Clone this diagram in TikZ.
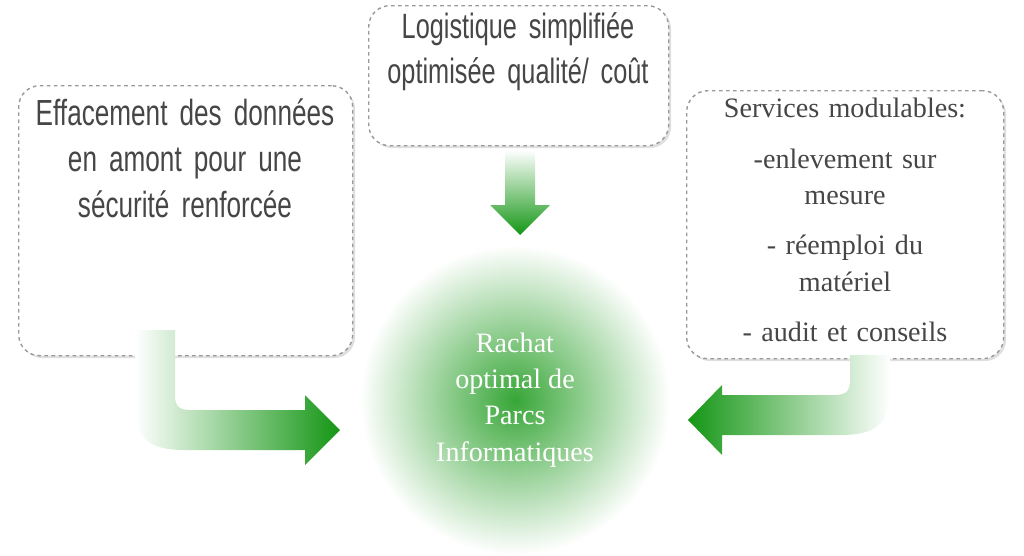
\documentclass[tikz,border=0pt]{standalone}
\usepackage{fontspec}
\setmainfont{Liberation Serif}
\newfontfamily\narrowfont[FakeStretch=0.72]{Liberation Sans}
\usetikzlibrary{shadows}
\hyphenpenalty=10000
\definecolor{arrowgreen}{RGB}{20,150,20}
\definecolor{textgray}{RGB}{70,70,70}
\tikzset{
  infobox/.style={draw=gray!80, dashed, line width=1.2pt, rounded corners=18pt, fill=white,
    drop shadow={opacity=0.25, shadow xshift=2pt, shadow yshift=-2pt}, text=textgray},
}
\begin{document}
\begin{tikzpicture}[x=0.03cm, y=-0.03cm]
\useasboundingbox (0,0) rectangle (1024,556);

% cadres
\node[infobox, minimum width=334*0.03cm, minimum height=270*0.03cm, anchor=north west] (gauche) at (18,85) {};
\node[text width=330*0.03cm, align=center, text=textgray, font=\narrowfont\fontsize{31}{39}\selectfont,
  anchor=north] (tgauche) at (185,95) {Effacement des données en amont pour une sécurité renforcée};

\node[infobox, minimum width=300*0.03cm, minimum height=140*0.03cm, anchor=north west] (haut) at (368,5) {};
\node[text width=300*0.03cm, align=center, text=textgray, font=\narrowfont\fontsize{30}{39}\selectfont,
  anchor=north] (thaut) at (518,8) {Logistique simplifiée optimisée qualité/ coût};

\node[infobox, minimum width=317*0.03cm, minimum height=268*0.03cm, anchor=north west] (droite) at (686,90) {};
\node[text width=310*0.03cm, align=center, text=textgray, font=\fontsize{24}{31}\selectfont,
  anchor=north] (tdroite) at (845,94) {Services modulables:\\[12pt] -enlevement sur\\ mesure\\[12pt] - réemploi du\\ matériel\\[12pt] - audit et conseils};

% cercle central
\node[circle, minimum size=310*0.03cm, inner color=arrowgreen!85, outer color=white,
  text=white, align=center, font=\fontsize{24}{31}\selectfont] (rachat) at (515,400)
  {Rachat\\optimal de\\Parcs\\Informatiques};

% flèches
\shade[top color=white, bottom color=arrowgreen] (505,150) -- (535,150) -- (535,205) -- (550,205)
  -- (520,235) -- (490,205) -- (505,205) -- cycle;

\shade[left color=white, right color=arrowgreen] (135,330) -- (135,405)
  .. controls (135,440) and (150,450) .. (185,450) -- (305,450) -- (305,465) -- (340,430)
  -- (305,395) -- (305,410) -- (190,410) .. controls (178,410) and (175,405) .. (175,395) -- (175,330) -- cycle;

\shade[right color=white, left color=arrowgreen] (890,355) -- (890,390)
  .. controls (890,425) and (875,435) .. (840,435) -- (722,435) -- (722,455) -- (688,420)
  -- (722,385) -- (722,395) -- (835,395) .. controls (847,395) and (850,390) .. (850,380) -- (850,355) -- cycle;
\end{tikzpicture}
\end{document}
